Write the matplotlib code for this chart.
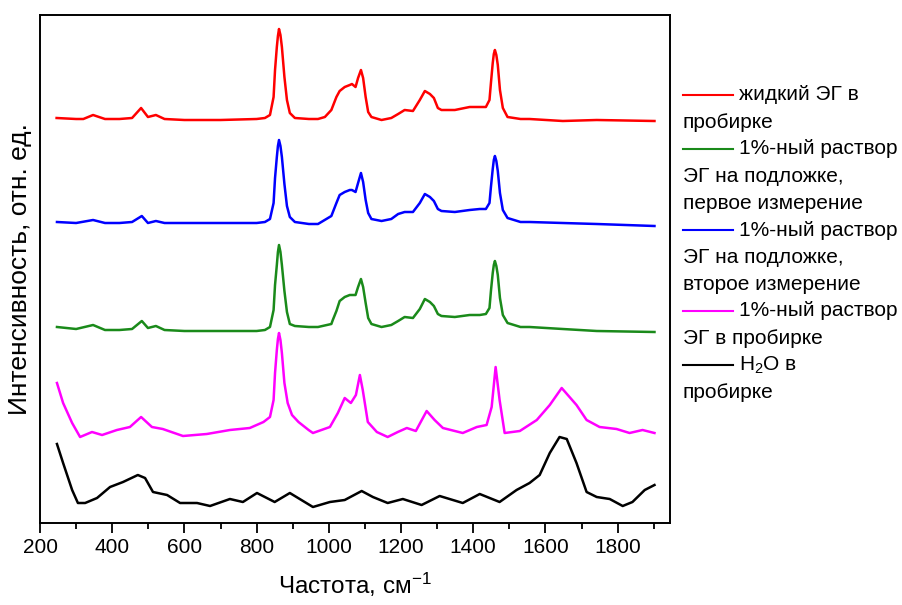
"""
plot.py — stacked Raman spectra of ethylene glycol (EG) samples and water.
Saves out.png.
"""
import matplotlib
matplotlib.use("Agg")
import matplotlib.pyplot as plt
from matplotlib.lines import Line2D

plt.rcParams["font.family"] = ["Liberation Sans", "DejaVu Sans"]
plt.rcParams["mathtext.fontset"] = "custom"
plt.rcParams["mathtext.rm"] = "Liberation Sans"
plt.rcParams["mathtext.it"] = "Liberation Sans:italic"

# wavenumber (cm^-1) / intensity (arb. units, already stacked)
wn_red = [246, 300, 320, 347, 380, 420, 455, 480, 499, 521, 545, 600, 700, 800, 823, 837, 847, 851,
          856, 859, 862, 866, 870, 877, 884, 892, 906, 945, 970, 989, 1007, 1021, 1030, 1044, 1058,
          1064, 1074, 1081, 1089, 1095, 1102, 1109, 1118, 1146, 1173, 1192, 1210, 1233, 1252, 1266,
          1280, 1291, 1302, 1312, 1349, 1390, 1418, 1435, 1445, 1449, 1454, 1457, 1460, 1464, 1468,
          1474, 1482, 1495, 1531, 1556, 1648, 1742, 1902]
i_red = [405, 404, 404, 408, 404, 404, 405, 415, 406, 408, 404, 403, 403, 404, 405, 408, 426, 453,
         476, 487, 494, 488, 476, 446, 423, 410, 405, 404, 404, 406, 413, 426, 432, 436, 438,
         439, 436, 445, 453, 445, 426, 411, 406, 403, 405, 409, 413, 412, 423, 432,
         429, 425, 415, 413, 413, 416, 416, 416, 423, 440, 460, 469, 473, 468, 458,
         433, 415, 406, 404, 404, 402, 403, 402]

wn_blue = [247, 300, 347, 380, 420, 455, 482, 499, 521, 545, 600, 700, 800, 823, 837, 847, 851, 856,
           859, 862, 866, 870, 877, 884, 892, 906, 945, 970, 1007, 1021, 1030, 1044, 1058, 1064, 1074,
           1081, 1089, 1095, 1102, 1109, 1118, 1146, 1173, 1192, 1210, 1233, 1252, 1266, 1280, 1291,
           1302, 1312, 1349, 1390, 1418, 1435, 1445, 1449, 1454, 1457, 1460, 1464, 1468, 1474, 1482,
           1495, 1531, 1556, 1648, 1742, 1902]
i_blue = [301, 300, 303, 300, 300, 301, 307, 300, 302, 300, 300, 300, 300, 301, 304, 320, 345, 366,
          377, 383, 377, 366, 339, 317, 306, 301, 299, 299, 307, 320, 328, 331, 333, 333, 331,
          340, 350, 341, 323, 310, 304, 302, 304, 309, 311, 311, 320, 329, 326, 322,
          314, 312, 311, 313, 314, 314, 320, 336, 354, 363, 367, 362, 352, 330, 313,
          305, 301, 301, 300, 299, 297]

wn_green = [247, 300, 347, 380, 420, 455, 482, 499, 521, 545, 600, 700, 800, 823, 837, 847, 851, 856,
            859, 862, 866, 870, 877, 884, 892, 906, 945, 970, 1007, 1011, 1021, 1030, 1044, 1058, 1064,
            1074, 1081, 1089, 1095, 1102, 1109, 1118, 1146, 1173, 1192, 1210, 1233, 1252, 1266, 1280,
            1291, 1302, 1312, 1349, 1390, 1418, 1435, 1445, 1449, 1454, 1457, 1460, 1464, 1468, 1474,
            1482, 1495, 1531, 1556, 1648, 1742, 1902]
i_green = [196, 194, 198, 193, 193, 194, 202, 195, 197, 193, 192, 192, 192, 193, 196, 213, 238, 258,
           271, 278, 271, 258, 232, 211, 199, 197, 196, 196, 199, 203, 212, 222, 226, 228, 228,
           228, 236, 244, 236, 220, 205, 199, 196, 198, 202, 206, 205, 214, 224, 221,
           217, 209, 207, 206, 208, 208, 209, 215, 232, 250, 258, 262, 257, 248, 225,
           208, 200, 196, 196, 194, 192, 191]

wn_mag = [247, 264, 289, 311, 344, 372, 413, 449, 480, 510, 540, 596, 662, 726, 781, 819, 837, 847,
          851, 856, 859, 862, 866, 870, 877, 886, 898, 916, 944, 956, 1003, 1025, 1044, 1061, 1075,
          1086, 1094, 1108, 1133, 1163, 1191, 1216, 1241, 1271, 1293, 1316, 1371, 1410, 1437, 1451,
          1462, 1473, 1487, 1529, 1576, 1612, 1645, 1686, 1714, 1750, 1797, 1833, 1869, 1902]
i_mag = [140, 120, 100, 86, 91, 88, 93, 96, 106, 96, 94, 87, 89, 93, 95, 101, 106, 123,
         150, 173, 184, 190, 183, 170, 140, 120, 108, 101, 93, 90, 96, 110, 125, 120, 128,
         148, 133, 101, 91, 86, 91, 95, 92, 112, 103, 95, 90, 96, 98, 116,
         156, 123, 90, 92, 103, 118, 135, 118, 103, 96, 94, 90, 93, 90]

wn_h2o = [247, 264, 289, 305, 325, 358, 394, 430, 471, 491, 513, 552, 588, 635, 671, 726, 762, 801,
          850, 892, 956, 1003, 1044, 1091, 1122, 1163, 1205, 1257, 1307, 1371, 1418, 1473, 1520,
          1556, 1584, 1612, 1639, 1659, 1686, 1714, 1742, 1778, 1814, 1841, 1875, 1902]
i_h2o = [79, 60, 33, 20, 20, 25, 36, 41, 48, 45, 31, 28, 20, 20, 17, 24, 21, 30,
         21, 30, 16, 21, 23, 32, 26, 20, 24, 18, 27, 20, 29, 21, 33,
         40, 48, 70, 86, 84, 60, 31, 26, 24, 17, 21, 33, 38]

labels = ["жидкий ЭГ в\nпробирке",
          "1%-ный раствор\nЭГ на подложке,\nпервое измерение",
          "1%-ный раствор\nЭГ на подложке,\nвторое измерение",
          "1%-ный раствор\nЭГ в пробирке",
          "H$_2$O в\nпробирке"]
colors = ["#ff0000", "#1a8a1a", "#0000ff", "#ff00ff", "#000000"]

W, H = 903, 605
fig = plt.figure(figsize=(W / 100, H / 100), dpi=100)
ax = fig.add_axes([40 / W, 1 - 523 / H, 630 / W, 508 / H])

series = [(wn_red, i_red), (wn_green, i_green), (wn_blue, i_blue), (wn_mag, i_mag), (wn_h2o, i_h2o)]
for (x, y), c in zip(series, colors):
    ax.plot(x, y, color=c, lw=1.8, solid_joinstyle="round")

ax.set_xlim(200, 1945)
ax.set_ylim(0, 508)
ax.set_xticks(range(200, 1801, 200))
ax.set_xticks(range(300, 1901, 200), minor=True)
ax.set_yticks([])
ax.tick_params(axis="x", which="major", direction="out", length=7, width=1.3, labelsize=15, pad=4)
ax.tick_params(axis="x", which="minor", direction="out", length=4, width=1.3)
for s in ax.spines.values():
    s.set_linewidth(1.4)
ax.set_xlabel("Частота, см$^{-1}$", fontsize=17.5, labelpad=10)
ax.set_ylabel("Интенсивность, отн. ед.", fontsize=19, labelpad=6)

# legend drawn by hand: wrapped lines start under the handle
row = 27
y0 = 95
k = 0
for lab, c in zip(labels, colors):
    lines = lab.split("\n")
    yy = 1 - (y0 + row * k) / H
    fig.add_artist(Line2D([683 / W, 733 / W], [yy, yy], color=c, lw=1.5, transform=fig.transFigure))
    fig.text(739 / W, yy, lines[0], fontsize=15, va="center", ha="left")
    k += 1
    for ln in lines[1:]:
        fig.text(683 / W, 1 - (y0 + row * k) / H, ln, fontsize=15, va="center", ha="left")
        k += 1

fig.savefig("out.png", dpi=100)
